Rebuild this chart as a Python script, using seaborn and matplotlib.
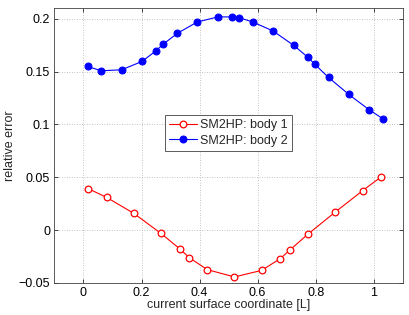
import matplotlib
matplotlib.use("Agg")
import matplotlib.pyplot as plt
import seaborn as sns
import pandas as pd

x_body1 = [0.017, 0.080, 0.174, 0.267, 0.332, 0.364, 0.426, 0.520, 0.614, 0.678, 0.710, 0.773, 0.867, 0.961, 1.023]
y_body1 = [0.0392, 0.0310, 0.0158, -0.0031, -0.0177, -0.0259, -0.0373, -0.0443, -0.0380, -0.0269, -0.0190, -0.0038, 0.0171, 0.0373, 0.0500]

x_body2 = [0.014, 0.062, 0.132, 0.202, 0.250, 0.275, 0.323, 0.392, 0.463, 0.511, 0.536, 0.583, 0.653, 0.724, 0.772, 0.796, 0.844, 0.914, 0.984, 1.032]
y_body2 = [0.1549, 0.1508, 0.1518, 0.1597, 0.1698, 0.1761, 0.1862, 0.1970, 0.2018, 0.2018, 0.2011, 0.1970, 0.1885, 0.1749, 0.1638, 0.1572, 0.1445, 0.1284, 0.1139, 0.1053]

labels = ["SM2HP: body 1", "SM2HP: body 2"]
x_ticks = [0, 0.2, 0.4, 0.6, 0.8, 1]
x_tick_labels = ["0", "0.2", "0.4", "0.6", "0.8", "1"]
y_ticks = [-0.05, 0, 0.05, 0.1, 0.15, 0.2]
y_tick_labels = ["\u22120.05", "0", "0.05", "0.1", "0.15", "0.2"]

sns.set_style("white")
plt.rcParams['font.family'] = ['Liberation Sans', 'DejaVu Sans']
fs = 9
plt.rcParams['font.size'] = fs

df1 = pd.DataFrame({"x": x_body1, "y": y_body1})
df2 = pd.DataFrame({"x": x_body2, "y": y_body2})

fig = plt.figure(figsize=(4.09, 3.15), dpi=100)
ax = fig.add_axes([0.133, 0.1016, 0.852, 0.8722])

sns.lineplot(data=df1, x="x", y="y", ax=ax, color="red", marker="o", markersize=4.8,
             markerfacecolor="white", markeredgecolor="red", markeredgewidth=0.9,
             linewidth=0.8, label=labels[0], sort=False)
sns.lineplot(data=df2, x="x", y="y", ax=ax, color="blue", marker="o", markersize=5,
             markerfacecolor="blue", markeredgecolor="blue",
             linewidth=0.8, label=labels[1], sort=False)

ax.set_xlim(-0.1, 1.1)
ax.set_ylim(-0.05, 0.21)
ax.set_xticks(x_ticks)
ax.set_xticklabels(x_tick_labels)
ax.set_yticks(y_ticks)
ax.set_yticklabels(y_tick_labels)
ax.set_xlabel("current surface coordinate [L]", fontsize=fs, labelpad=0)
ax.set_ylabel("relative error", fontsize=fs, labelpad=2)

ax.grid(True, linestyle=(0, (1, 2)), color="#b0b0b0", linewidth=0.6)
ax.tick_params(direction="in", length=3, width=0.5, labelsize=fs, pad=3,
               top=True, right=True, bottom=True, left=True, colors="black")
for s in ax.spines.values():
    s.set_visible(True)
    s.set_color("#404040")
    s.set_linewidth(0.6)

leg = ax.legend(loc="center", bbox_to_anchor=(0.4996, 0.546), fontsize=fs,
                frameon=True, fancybox=False, edgecolor="#404040", framealpha=1,
                handlelength=2.2, borderpad=0.35, labelspacing=0.25, handletextpad=0.3)
leg.get_frame().set_linewidth(0.6)

fig.savefig("out.png", dpi=100)
